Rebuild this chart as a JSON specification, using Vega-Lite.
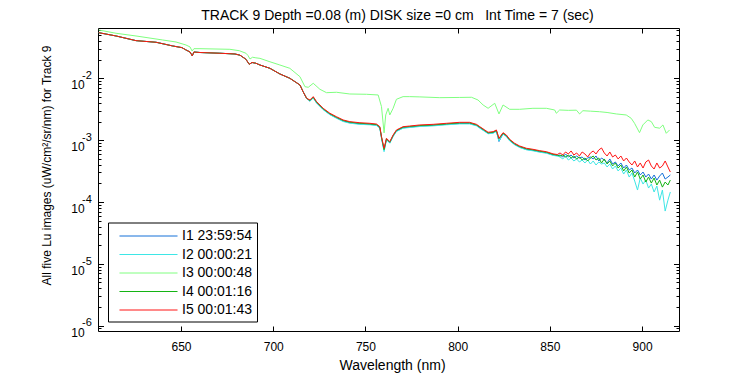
{
  "$schema": "https://vega.github.io/schema/vega-lite/v6.json",
  "width": 581,
  "height": 303,
  "autosize": "none",
  "padding": {"left": 98, "top": 28, "right": 71, "bottom": 44},
  "background": "white",
  "config": {
    "view": {"stroke": null},
    "font": "Liberation Sans",
    "axis": {"domainColor": "black", "domainWidth": 1, "tickColor": "black", "tickWidth": 1, "labelColor": "black", "titleColor": "black", "grid": false, "labelFont": "Liberation Sans", "titleFont": "Liberation Sans"}
  },
  "title": {"text": "TRACK 9 Depth =0.08 (m) DISK size =0 cm\u00a0\u00a0 Int Time = 7 (sec)", "fontSize": 14, "fontWeight": "normal", "font": "Liberation Sans", "color": "black", "anchor": "middle", "frame": "group", "baseline": "alphabetic", "offset": 9, "dx": 9, "dy": 15},
  "datasets": {
    "exps": [
      {"w": 605, "v": 0.000001, "e": "-6"},
      {"w": 605, "v": 0.00001, "e": "-5"},
      {"w": 605, "v": 0.0001, "e": "-4"},
      {"w": 605, "v": 0.001, "e": "-3"},
      {"w": 605, "v": 0.01, "e": "-2"}
    ],
    "lu": [
      {"s":"I1","w":605.4,"v":0.0546},{"s":"I1","w":614.8,"v":0.0483},{"s":"I1","w":625.6,"v":0.0406},{"s":"I1","w":636.5,"v":0.0382},{"s":"I1","w":645.5,"v":0.0333},{"s":"I1","w":650.5,"v":0.0313},{"s":"I1","w":652.7,"v":0.0287},{"s":"I1","w":654.9,"v":0.0266},{"s":"I1","w":656.1,"v":0.0230},{"s":"I1","w":657.0,"v":0.0266},{"s":"I1","w":660.3,"v":0.0261},{"s":"I1","w":671.1,"v":0.0254},{"s":"I1","w":679.3,"v":0.0247},{"s":"I1","w":682.0,"v":0.0236},{"s":"I1","w":685.2,"v":0.0203},{"s":"I1","w":687.0,"v":0.0168},{"s":"I1","w":688.5,"v":0.0180},{"s":"I1","w":690.6,"v":0.0175},{"s":"I1","w":692.8,"v":0.0164},{"s":"I1","w":698.2,"v":0.0145},{"s":"I1","w":703.6,"v":0.01175},{"s":"I1","w":709.0,"v":0.0100},{"s":"I1","w":714.5,"v":0.00779},{"s":"I1","w":716.2,"v":0.00607},{"s":"I1","w":718.1,"v":0.00475},
      {"s":"I1","w":719.9,"v":0.00428},{"s":"I1","w":721.7,"v":0.00485},{"s":"I1","w":723.5,"v":0.00402},{"s":"I1","w":727.1,"v":0.00314},{"s":"I1","w":730.7,"v":0.00261},{"s":"I1","w":734.3,"v":0.00229},{"s":"I1","w":737.9,"v":0.00204},{"s":"I1","w":741.5,"v":0.00191},{"s":"I1","w":747.0,"v":0.00183},{"s":"I1","w":752.4,"v":0.00180},{"s":"I1","w":756.0,"v":0.00175},{"s":"I1","w":757.8,"v":0.00158},{"s":"I1","w":758.7,"v":0.00109},{"s":"I1","w":760.1,"v":0.000690},{"s":"I1","w":761.4,"v":0.00103},{"s":"I1","w":763.2,"v":0.000906},{"s":"I1","w":765.0,"v":0.00116},{"s":"I1","w":766.8,"v":0.00140},{"s":"I1","w":770.4,"v":0.00158},{"s":"I1","w":774.0,"v":0.00162},{"s":"I1","w":779.5,"v":0.00169},{"s":"I1","w":786.7,"v":0.00173},{"s":"I1","w":793.9,"v":0.00180},{"s":"I1","w":801.1,"v":0.00186},{"s":"I1","w":806.5,"v":0.00186},{"s":"I1","w":810.2,"v":0.00173},{"s":"I1","w":812.0,"v":0.00158},{"s":"I1","w":814.7,"v":0.00140},{"s":"I1","w":816.5,"v":0.00129},{"s":"I1","w":819.2,"v":0.00132},{"s":"I1","w":821.0,"v":0.00140},{"s":"I1","w":822.4,"v":0.00095},{"s":"I1","w":824.6,"v":0.00127},{"s":"I1","w":826.4,"v":0.00116},{"s":"I1","w":828.2,"v":0.00099},{"s":"I1","w":830.9,"v":0.000853},{"s":"I1","w":833.6,"v":0.000772},{"s":"I1","w":837.3,"v":0.000708},{"s":"I1","w":840.8,"v":0.000683},{"s":"I1","w":844.5,"v":0.000648},{"s":"I1","w":848.1,"v":0.000624},{"s":"I1","w":851.7,"v":0.000576},{"s":"I1","w":854.0,"v":0.000562},
      {"s":"I1","w":855.5,"v":0.000575},{"s":"I1","w":857.0,"v":0.000534},{"s":"I1","w":858.5,"v":0.000597},{"s":"I1","w":860.0,"v":0.000534},{"s":"I1","w":861.5,"v":0.000575},{"s":"I1","w":863.0,"v":0.000514},{"s":"I1","w":864.5,"v":0.000554},{"s":"I1","w":866.0,"v":0.000514},{"s":"I1","w":867.5,"v":0.000534},{"s":"I1","w":869.0,"v":0.000477},{"s":"I1","w":870.5,"v":0.000514},{"s":"I1","w":872.0,"v":0.000534},{"s":"I1","w":873.5,"v":0.000496},{"s":"I1","w":875.0,"v":0.000554},{"s":"I1","w":876.5,"v":0.000460},{"s":"I1","w":878.0,"v":0.000514},{"s":"I1","w":879.5,"v":0.000477},{"s":"I1","w":881.0,"v":0.000427},{"s":"I1","w":882.5,"v":0.000496},{"s":"I1","w":884.0,"v":0.000411},{"s":"I1","w":885.5,"v":0.000443},{"s":"I1","w":887.0,"v":0.000382},{"s":"I1","w":888.5,"v":0.000427},{"s":"I1","w":890.0,"v":0.000354},{"s":"I1","w":891.5,"v":0.000396},{"s":"I1","w":893.0,"v":0.000329},{"s":"I1","w":894.5,"v":0.000354},{"s":"I1","w":896.0,"v":0.000294},{"s":"I1","w":897.5,"v":0.000329},{"s":"I1","w":899.0,"v":0.000273},{"s":"I1","w":900.5,"v":0.000305},{"s":"I1","w":902.0,"v":0.000253},{"s":"I1","w":903.5,"v":0.000283},{"s":"I1","w":905.0,"v":0.000235},{"s":"I1","w":906.5,"v":0.000273},{"s":"I1","w":908.0,"v":0.000226},{"s":"I1","w":909.5,"v":0.000263},{"s":"I1","w":911.0,"v":0.000294},{"s":"I1","w":912.5,"v":0.000235},{"s":"I1","w":914.0,"v":0.000253},{"s":"I1","w":915.3,"v":0.000273},

      {"s":"I2","w":605.4,"v":0.0546},{"s":"I2","w":614.8,"v":0.0483},{"s":"I2","w":625.6,"v":0.0406},{"s":"I2","w":636.5,"v":0.0382},{"s":"I2","w":645.5,"v":0.0333},{"s":"I2","w":650.5,"v":0.0313},{"s":"I2","w":652.7,"v":0.0287},{"s":"I2","w":654.9,"v":0.0266},{"s":"I2","w":656.1,"v":0.0230},{"s":"I2","w":657.0,"v":0.0266},{"s":"I2","w":660.3,"v":0.0261},{"s":"I2","w":671.1,"v":0.0254},{"s":"I2","w":679.3,"v":0.0247},{"s":"I2","w":682.0,"v":0.0236},{"s":"I2","w":685.2,"v":0.0203},{"s":"I2","w":687.0,"v":0.0168},{"s":"I2","w":688.5,"v":0.0180},{"s":"I2","w":690.6,"v":0.0175},{"s":"I2","w":692.8,"v":0.0164},{"s":"I2","w":698.2,"v":0.0145},{"s":"I2","w":703.6,"v":0.01175},{"s":"I2","w":709.0,"v":0.0100},{"s":"I2","w":714.5,"v":0.00779},{"s":"I2","w":716.2,"v":0.00607},{"s":"I2","w":718.1,"v":0.00475},
      {"s":"I2","w":719.9,"v":0.00425},{"s":"I2","w":721.7,"v":0.00480},{"s":"I2","w":723.5,"v":0.00398},{"s":"I2","w":727.1,"v":0.00310},{"s":"I2","w":730.7,"v":0.00258},{"s":"I2","w":734.3,"v":0.00226},{"s":"I2","w":737.9,"v":0.00200},{"s":"I2","w":741.5,"v":0.00188},{"s":"I2","w":747.0,"v":0.00180},{"s":"I2","w":752.4,"v":0.00177},{"s":"I2","w":756.0,"v":0.00172},{"s":"I2","w":757.8,"v":0.00156},{"s":"I2","w":758.7,"v":0.00108},{"s":"I2","w":760.1,"v":0.000650},{"s":"I2","w":761.4,"v":0.00101},{"s":"I2","w":763.2,"v":0.000892},{"s":"I2","w":765.0,"v":0.00114},{"s":"I2","w":766.8,"v":0.00138},{"s":"I2","w":770.4,"v":0.00156},{"s":"I2","w":774.0,"v":0.00160},{"s":"I2","w":779.5,"v":0.00166},{"s":"I2","w":786.7,"v":0.00170},{"s":"I2","w":793.9,"v":0.00177},{"s":"I2","w":801.1,"v":0.00183},{"s":"I2","w":806.5,"v":0.00183},{"s":"I2","w":810.2,"v":0.00170},{"s":"I2","w":812.0,"v":0.00156},{"s":"I2","w":814.7,"v":0.00138},{"s":"I2","w":816.5,"v":0.00127},{"s":"I2","w":819.2,"v":0.00129},{"s":"I2","w":821.0,"v":0.00138},{"s":"I2","w":822.4,"v":0.00097},{"s":"I2","w":824.6,"v":0.00125},{"s":"I2","w":826.4,"v":0.00114},{"s":"I2","w":828.2,"v":0.00097},{"s":"I2","w":830.9,"v":0.000840},{"s":"I2","w":833.6,"v":0.000760},{"s":"I2","w":837.3,"v":0.000697},{"s":"I2","w":840.8,"v":0.000672},{"s":"I2","w":844.5,"v":0.000638},{"s":"I2","w":848.1,"v":0.000614},{"s":"I2","w":851.7,"v":0.000567},{"s":"I2","w":854.0,"v":0.000553},
      {"s":"I2","w":855.5,"v":0.000534},{"s":"I2","w":857.0,"v":0.000496},{"s":"I2","w":858.5,"v":0.000554},{"s":"I2","w":860.0,"v":0.000477},{"s":"I2","w":861.5,"v":0.000514},{"s":"I2","w":863.0,"v":0.000460},{"s":"I2","w":864.5,"v":0.000496},{"s":"I2","w":866.0,"v":0.000443},{"s":"I2","w":867.5,"v":0.000477},{"s":"I2","w":869.0,"v":0.000427},{"s":"I2","w":870.5,"v":0.000477},{"s":"I2","w":872.0,"v":0.000411},{"s":"I2","w":873.5,"v":0.000460},{"s":"I2","w":875.0,"v":0.000396},{"s":"I2","w":876.5,"v":0.000443},{"s":"I2","w":878.0,"v":0.000411},{"s":"I2","w":879.5,"v":0.000427},{"s":"I2","w":881.0,"v":0.000368},{"s":"I2","w":882.5,"v":0.000411},{"s":"I2","w":884.0,"v":0.000341},{"s":"I2","w":885.5,"v":0.000382},{"s":"I2","w":887.0,"v":0.000317},{"s":"I2","w":888.5,"v":0.000354},{"s":"I2","w":890.0,"v":0.000283},{"s":"I2","w":891.5,"v":0.000329},{"s":"I2","w":893.0,"v":0.000253},{"s":"I2","w":894.5,"v":0.000294},{"s":"I2","w":896.0,"v":0.000218},{"s":"I2","w":897.5,"v":0.000156},{"s":"I2","w":899.0,"v":0.000244},{"s":"I2","w":900.5,"v":0.000195},{"s":"I2","w":902.0,"v":0.000226},{"s":"I2","w":903.5,"v":0.000168},{"s":"I2","w":905.0,"v":0.000195},{"s":"I2","w":906.5,"v":0.000145},{"s":"I2","w":908.0,"v":0.000181},{"s":"I2","w":909.5,"v":0.000107},{"s":"I2","w":911.0,"v":0.000156},{"s":"I2","w":912.5,"v":0.0000713},{"s":"I2","w":914.0,"v":0.000107},{"s":"I2","w":915.3,"v":0.000145},

      {"s":"I3","w":605.4,"v":0.0604},{"s":"I3","w":614.8,"v":0.0534},{"s":"I3","w":625.6,"v":0.0483},{"s":"I3","w":640.1,"v":0.0416},{"s":"I3","w":647.3,"v":0.0386},{"s":"I3","w":652.7,"v":0.0345},{"s":"I3","w":654.9,"v":0.0321},{"s":"I3","w":656.0,"v":0.0276},{"s":"I3","w":657.0,"v":0.0301},{"s":"I3","w":660.3,"v":0.0301},{"s":"I3","w":676.5,"v":0.0294},{"s":"I3","w":681.6,"v":0.0279},{"s":"I3","w":685.2,"v":0.0254},{"s":"I3","w":686.3,"v":0.0234},{"s":"I3","w":687.4,"v":0.0205},{"s":"I3","w":688.8,"v":0.0219},{"s":"I3","w":690.6,"v":0.0214},{"s":"I3","w":692.8,"v":0.0210},{"s":"I3","w":698.2,"v":0.0185},{"s":"I3","w":703.6,"v":0.0164},{"s":"I3","w":709.0,"v":0.0145},{"s":"I3","w":714.5,"v":0.0106},{"s":"I3","w":717.2,"v":0.00731},{"s":"I3","w":719.0,"v":0.00715},{"s":"I3","w":721.7,"v":0.00830},{"s":"I3","w":725.3,"v":0.00664},{"s":"I3","w":728.9,"v":0.00585},{"s":"I3","w":734.3,"v":0.00594},{"s":"I3","w":741.5,"v":0.00557},{"s":"I3","w":750.6,"v":0.00551},{"s":"I3","w":756.9,"v":0.00537},{"s":"I3","w":758.7,"v":0.00348},{"s":"I3","w":760.1,"v":0.00131},{"s":"I3","w":761.0,"v":0.00255},{"s":"I3","w":762.3,"v":0.00327},{"s":"I3","w":763.2,"v":0.00255},{"s":"I3","w":765.0,"v":0.00327},{"s":"I3","w":766.8,"v":0.00457},{"s":"I3","w":770.4,"v":0.00505},{"s":"I3","w":774.0,"v":0.00505},{"s":"I3","w":779.5,"v":0.00500},{"s":"I3","w":790.3,"v":0.00486},{"s":"I3","w":801.1,"v":0.00490},{"s":"I3","w":807.5,"v":0.00493},{"s":"I3","w":811.0,"v":0.00446},{"s":"I3","w":813.8,"v":0.00370},{"s":"I3","w":816.5,"v":0.00327},{"s":"I3","w":820.1,"v":0.00394},{"s":"I3","w":822.4,"v":0.00265},{"s":"I3","w":824.6,"v":0.00370},{"s":"I3","w":828.2,"v":0.00315},{"s":"I3","w":833.6,"v":0.00315},{"s":"I3","w":840.8,"v":0.00327},{"s":"I3","w":848.1,"v":0.00327},{"s":"I3","w":852.6,"v":0.00307},{"s":"I3","w":853.5,"v":0.00272},{"s":"I3","w":855.3,"v":0.00307},{"s":"I3","w":860.0,"v":0.00303},{"s":"I3","w":864.4,"v":0.00305},{"s":"I3","w":866.1,"v":0.00265},{"s":"I3","w":867.9,"v":0.00299},{"s":"I3","w":872.0,"v":0.00294},{"s":"I3","w":876.9,"v":0.00288},{"s":"I3","w":881.0,"v":0.00280},{"s":"I3","w":886.0,"v":0.00265},{"s":"I3","w":891.4,"v":0.00255},{"s":"I3","w":894.1,"v":0.00225},{"s":"I3","w":895.9,"v":0.00187},{"s":"I3","w":898.6,"v":0.00132},{"s":"I3","w":900.4,"v":0.00176},{"s":"I3","w":903.1,"v":0.00212},{"s":"I3","w":905.0,"v":0.00199},{"s":"I3","w":906.8,"v":0.00161},{"s":"I3","w":909.5,"v":0.00156},{"s":"I3","w":911.3,"v":0.00176},{"s":"I3","w":913.1,"v":0.00129},{"s":"I3","w":914.9,"v":0.00146},

      {"s":"I4","w":605.4,"v":0.0546},{"s":"I4","w":614.8,"v":0.0483},{"s":"I4","w":625.6,"v":0.0406},{"s":"I4","w":636.5,"v":0.0382},{"s":"I4","w":645.5,"v":0.0333},{"s":"I4","w":650.5,"v":0.0313},{"s":"I4","w":652.7,"v":0.0287},{"s":"I4","w":654.9,"v":0.0266},{"s":"I4","w":656.1,"v":0.0230},{"s":"I4","w":657.0,"v":0.0266},{"s":"I4","w":660.3,"v":0.0261},{"s":"I4","w":671.1,"v":0.0254},{"s":"I4","w":679.3,"v":0.0247},{"s":"I4","w":682.0,"v":0.0236},{"s":"I4","w":685.2,"v":0.0203},{"s":"I4","w":687.0,"v":0.0168},{"s":"I4","w":688.5,"v":0.0180},{"s":"I4","w":690.6,"v":0.0175},{"s":"I4","w":692.8,"v":0.0164},{"s":"I4","w":698.2,"v":0.0145},{"s":"I4","w":703.6,"v":0.01175},{"s":"I4","w":709.0,"v":0.0100},{"s":"I4","w":714.5,"v":0.00779},{"s":"I4","w":716.2,"v":0.00607},{"s":"I4","w":718.1,"v":0.00475},
      {"s":"I4","w":719.9,"v":0.00437},{"s":"I4","w":721.7,"v":0.00495},{"s":"I4","w":723.5,"v":0.00411},{"s":"I4","w":727.1,"v":0.00320},{"s":"I4","w":730.7,"v":0.00267},{"s":"I4","w":734.3,"v":0.00234},{"s":"I4","w":737.9,"v":0.00208},{"s":"I4","w":741.5,"v":0.00195},{"s":"I4","w":747.0,"v":0.00187},{"s":"I4","w":752.4,"v":0.00183},{"s":"I4","w":756.0,"v":0.00178},{"s":"I4","w":757.8,"v":0.00162},{"s":"I4","w":758.7,"v":0.00112},{"s":"I4","w":760.1,"v":0.000700},{"s":"I4","w":761.4,"v":0.00105},{"s":"I4","w":763.2,"v":0.000925},{"s":"I4","w":765.0,"v":0.00119},{"s":"I4","w":766.8,"v":0.00143},{"s":"I4","w":770.4,"v":0.00162},{"s":"I4","w":774.0,"v":0.00166},{"s":"I4","w":779.5,"v":0.00172},{"s":"I4","w":786.7,"v":0.00176},{"s":"I4","w":793.9,"v":0.00183},{"s":"I4","w":801.1,"v":0.00190},{"s":"I4","w":806.5,"v":0.00190},{"s":"I4","w":810.2,"v":0.00176},{"s":"I4","w":812.0,"v":0.00162},{"s":"I4","w":814.7,"v":0.00143},{"s":"I4","w":816.5,"v":0.00131},{"s":"I4","w":819.2,"v":0.00134},{"s":"I4","w":821.0,"v":0.00143},{"s":"I4","w":822.4,"v":0.00105},{"s":"I4","w":824.6,"v":0.00129},{"s":"I4","w":826.4,"v":0.00119},{"s":"I4","w":828.2,"v":0.00101},{"s":"I4","w":830.9,"v":0.000871},{"s":"I4","w":833.6,"v":0.000788},{"s":"I4","w":837.3,"v":0.000723},{"s":"I4","w":840.8,"v":0.000697},{"s":"I4","w":844.5,"v":0.000662},{"s":"I4","w":848.1,"v":0.000637},{"s":"I4","w":851.7,"v":0.000588},{"s":"I4","w":854.0,"v":0.000573},
      {"s":"I4","w":855.5,"v":0.000554},{"s":"I4","w":857.0,"v":0.000575},{"s":"I4","w":858.5,"v":0.000534},{"s":"I4","w":860.0,"v":0.000575},{"s":"I4","w":861.5,"v":0.000514},{"s":"I4","w":863.0,"v":0.000554},{"s":"I4","w":864.5,"v":0.000496},{"s":"I4","w":866.0,"v":0.000534},{"s":"I4","w":867.5,"v":0.000477},{"s":"I4","w":869.0,"v":0.000514},{"s":"I4","w":870.5,"v":0.000460},{"s":"I4","w":872.0,"v":0.000514},{"s":"I4","w":873.5,"v":0.000554},{"s":"I4","w":875.0,"v":0.000477},{"s":"I4","w":876.5,"v":0.000514},{"s":"I4","w":878.0,"v":0.000427},{"s":"I4","w":879.5,"v":0.000496},{"s":"I4","w":881.0,"v":0.000411},{"s":"I4","w":882.5,"v":0.000460},{"s":"I4","w":884.0,"v":0.000382},{"s":"I4","w":885.5,"v":0.000427},{"s":"I4","w":887.0,"v":0.000354},{"s":"I4","w":888.5,"v":0.000396},{"s":"I4","w":890.0,"v":0.000317},{"s":"I4","w":891.5,"v":0.000368},{"s":"I4","w":893.0,"v":0.000294},{"s":"I4","w":894.5,"v":0.000329},{"s":"I4","w":896.0,"v":0.000253},{"s":"I4","w":897.5,"v":0.000305},{"s":"I4","w":899.0,"v":0.000235},{"s":"I4","w":900.5,"v":0.000273},{"s":"I4","w":902.0,"v":0.000210},{"s":"I4","w":903.5,"v":0.000253},{"s":"I4","w":905.0,"v":0.000202},{"s":"I4","w":906.5,"v":0.000244},{"s":"I4","w":908.0,"v":0.000188},{"s":"I4","w":909.5,"v":0.000226},{"s":"I4","w":911.0,"v":0.000174},{"s":"I4","w":912.5,"v":0.000210},{"s":"I4","w":914.0,"v":0.000188},{"s":"I4","w":915.3,"v":0.000226},

      {"s":"I5","w":605.4,"v":0.0546},{"s":"I5","w":614.8,"v":0.0483},{"s":"I5","w":625.6,"v":0.0406},{"s":"I5","w":636.5,"v":0.0382},{"s":"I5","w":645.5,"v":0.0333},{"s":"I5","w":650.5,"v":0.0313},{"s":"I5","w":652.7,"v":0.0287},{"s":"I5","w":654.9,"v":0.0266},{"s":"I5","w":656.1,"v":0.0230},{"s":"I5","w":657.0,"v":0.0266},{"s":"I5","w":660.3,"v":0.0261},{"s":"I5","w":671.1,"v":0.0254},{"s":"I5","w":679.3,"v":0.0247},{"s":"I5","w":682.0,"v":0.0236},{"s":"I5","w":685.2,"v":0.0203},{"s":"I5","w":687.0,"v":0.0168},{"s":"I5","w":688.5,"v":0.0180},{"s":"I5","w":690.6,"v":0.0175},{"s":"I5","w":692.8,"v":0.0164},{"s":"I5","w":698.2,"v":0.0145},{"s":"I5","w":703.6,"v":0.01175},{"s":"I5","w":709.0,"v":0.0100},{"s":"I5","w":714.5,"v":0.00779},{"s":"I5","w":716.2,"v":0.00607},{"s":"I5","w":718.1,"v":0.00475},
      {"s":"I5","w":719.9,"v":0.00446},{"s":"I5","w":721.7,"v":0.00505},{"s":"I5","w":723.5,"v":0.00419},{"s":"I5","w":727.1,"v":0.00327},{"s":"I5","w":730.7,"v":0.00272},{"s":"I5","w":734.3,"v":0.00239},{"s":"I5","w":737.9,"v":0.00212},{"s":"I5","w":741.5,"v":0.00199},{"s":"I5","w":747.0,"v":0.00191},{"s":"I5","w":752.4,"v":0.00187},{"s":"I5","w":756.0,"v":0.00182},{"s":"I5","w":757.8,"v":0.00165},{"s":"I5","w":758.7,"v":0.00114},{"s":"I5","w":760.1,"v":0.000738},{"s":"I5","w":761.4,"v":0.00107},{"s":"I5","w":763.2,"v":0.000944},{"s":"I5","w":765.0,"v":0.00121},{"s":"I5","w":766.8,"v":0.00146},{"s":"I5","w":770.4,"v":0.00165},{"s":"I5","w":774.0,"v":0.00169},{"s":"I5","w":779.5,"v":0.00176},{"s":"I5","w":786.7,"v":0.00180},{"s":"I5","w":793.9,"v":0.00187},{"s":"I5","w":801.1,"v":0.00194},{"s":"I5","w":806.5,"v":0.00194},{"s":"I5","w":810.2,"v":0.00180},{"s":"I5","w":812.0,"v":0.00165},{"s":"I5","w":814.7,"v":0.00146},{"s":"I5","w":816.5,"v":0.00134},{"s":"I5","w":819.2,"v":0.00137},{"s":"I5","w":821.0,"v":0.00146},{"s":"I5","w":822.4,"v":0.00107},{"s":"I5","w":824.6,"v":0.00132},{"s":"I5","w":826.4,"v":0.00121},{"s":"I5","w":828.2,"v":0.00103},{"s":"I5","w":830.9,"v":0.000889},{"s":"I5","w":833.6,"v":0.000804},{"s":"I5","w":837.3,"v":0.000738},{"s":"I5","w":840.8,"v":0.000711},{"s":"I5","w":844.5,"v":0.000675},{"s":"I5","w":848.1,"v":0.000650},{"s":"I5","w":851.7,"v":0.000600},{"s":"I5","w":854.0,"v":0.000585},
      {"s":"I5","w":855.5,"v":0.000620},{"s":"I5","w":857.0,"v":0.000575},{"s":"I5","w":858.5,"v":0.000643},{"s":"I5","w":860.0,"v":0.000597},{"s":"I5","w":861.5,"v":0.000668},{"s":"I5","w":863.0,"v":0.000575},{"s":"I5","w":864.5,"v":0.000620},{"s":"I5","w":866.0,"v":0.000554},{"s":"I5","w":867.5,"v":0.000643},{"s":"I5","w":869.0,"v":0.000597},{"s":"I5","w":870.5,"v":0.000534},{"s":"I5","w":872.0,"v":0.000620},{"s":"I5","w":873.5,"v":0.000668},{"s":"I5","w":875.0,"v":0.000597},{"s":"I5","w":876.5,"v":0.000693},{"s":"I5","w":878.0,"v":0.000747},{"s":"I5","w":879.5,"v":0.000620},{"s":"I5","w":881.0,"v":0.000554},{"s":"I5","w":882.5,"v":0.000643},{"s":"I5","w":884.0,"v":0.000534},{"s":"I5","w":885.5,"v":0.000575},{"s":"I5","w":887.0,"v":0.000496},{"s":"I5","w":888.5,"v":0.000554},{"s":"I5","w":890.0,"v":0.000460},{"s":"I5","w":891.5,"v":0.000514},{"s":"I5","w":893.0,"v":0.000443},{"s":"I5","w":894.5,"v":0.000396},{"s":"I5","w":896.0,"v":0.000460},{"s":"I5","w":897.5,"v":0.000368},{"s":"I5","w":899.0,"v":0.000427},{"s":"I5","w":900.5,"v":0.000354},{"s":"I5","w":902.0,"v":0.000443},{"s":"I5","w":903.5,"v":0.000477},{"s":"I5","w":905.0,"v":0.000382},{"s":"I5","w":906.5,"v":0.000341},{"s":"I5","w":908.0,"v":0.000427},{"s":"I5","w":909.5,"v":0.000354},{"s":"I5","w":911.0,"v":0.000382},{"s":"I5","w":912.5,"v":0.000460},{"s":"I5","w":914.0,"v":0.000368},{"s":"I5","w":915.3,"v":0.000305}
    ]
  },
  "layer": [
    {
      "data": {"name": "lu"},
      "mark": {"type": "line", "strokeWidth": 1},
      "encoding": {
        "x": {
          "field": "w", "type": "quantitative",
          "scale": {"domain": [605, 920], "nice": false, "zero": false},
          "axis": {"orient": "bottom", "values": [650, 700, 750, 800, 850, 900], "tickSize": -5, "labelPadding": 24, "labelBaseline": "alphabetic", "labelFontSize": 12, "labelFlush": false, "title": "Wavelength (nm)", "titleFontSize": 14, "titleFontWeight": "normal", "titleBaseline": "alphabetic", "titleY": 38, "titleX": 294}
        },
        "y": {
          "field": "v", "type": "quantitative",
          "scale": {"type": "log", "domain": [8.2e-7, 0.065], "nice": false},
          "axis": {
            "orient": "left",
            "values": [9e-7, 1e-6, 2e-6, 3e-6, 4e-6, 5e-6, 6e-6, 7e-6, 8e-6, 9e-6, 1e-5, 2e-5, 3e-5, 4e-5, 5e-5, 6e-5, 7e-5, 8e-5, 9e-5, 1e-4, 2e-4, 3e-4, 4e-4, 5e-4, 6e-4, 7e-4, 8e-4, 9e-4, 0.001, 0.002, 0.003, 0.004, 0.005, 0.006, 0.007, 0.008, 0.009, 0.01, 0.02, 0.03, 0.04, 0.05, 0.06],
            "labelExpr": "abs(log(datum.value)/LN10 - round(log(datum.value)/LN10)) < 0.01 ? '10' : ''",
            "tickSize": {"condition": {"test": "abs(log(datum.value)/LN10 - round(log(datum.value)/LN10)) < 0.01", "value": -5.5}, "value": -3},
            "labelFontSize": 12, "labelBaseline": "alphabetic", "labelOffset": 10.7, "labelPadding": 19.3, "labelFlush": false, "labelOverlap": false,
            "title": "All five Lu images (uW/cm\u00b2/sr/nm) for Track 9", "titleFontSize": 12, "titleFontWeight": "normal", "titleAngle": -90, "titleBaseline": "alphabetic", "titleAlign": "center", "titleX": -47.3, "titleY": 137
          }
        },
        "color": {
          "field": "s", "type": "nominal",
          "scale": {"domain": ["I1", "I2", "I3", "I4", "I5"], "range": ["#1470d8", "#3ee6e6", "#80ff80", "#14b414", "#ff1414"]},
          "legend": {
            "orient": "none", "legendX": 10, "legendY": 194.5, "title": null,
            "fillColor": "white", "strokeColor": "black", "padding": 4,
            "symbolType": "M-3.26,0H3.26", "symbolSize": 317, "symbolStrokeWidth": 1, "symbolOffset": 27,
            "labelOffset": 24, "labelFontSize": 14, "labelFont": "Liberation Sans", "labelColor": "black", "rowPadding": 1.5,
            "labelExpr": "datum.label == 'I1' ? 'I1 23:59:54' : datum.label == 'I2' ? 'I2 00:00:21' : datum.label == 'I3' ? 'I3 00:00:48' : datum.label == 'I4' ? 'I4 00:01:16' : 'I5 00:01:43'"
          }
        }
      }
    },
    {
      "data": {"name": "exps"},
      "mark": {"type": "text", "align": "left", "baseline": "alphabetic", "dx": -16, "dy": 0.7, "fontSize": 11, "font": "Liberation Sans", "color": "black"},
      "encoding": {
        "x": {
          "field": "w", "type": "quantitative",
          "scale": {"domain": [605, 920], "nice": false, "zero": false},
          "axis": {"orient": "top", "values": [650, 700, 750, 800, 850, 900], "tickSize": -5, "labels": false, "title": null}
        },
        "y": {
          "field": "v", "type": "quantitative",
          "scale": {"type": "log", "domain": [8.2e-7, 0.065], "nice": false},
          "axis": {
            "orient": "right",
            "values": [9e-7, 1e-6, 2e-6, 3e-6, 4e-6, 5e-6, 6e-6, 7e-6, 8e-6, 9e-6, 1e-5, 2e-5, 3e-5, 4e-5, 5e-5, 6e-5, 7e-5, 8e-5, 9e-5, 1e-4, 2e-4, 3e-4, 4e-4, 5e-4, 6e-4, 7e-4, 8e-4, 9e-4, 0.001, 0.002, 0.003, 0.004, 0.005, 0.006, 0.007, 0.008, 0.009, 0.01, 0.02, 0.03, 0.04, 0.05, 0.06],
            "tickSize": {"condition": {"test": "abs(log(datum.value)/LN10 - round(log(datum.value)/LN10)) < 0.01", "value": -5.5}, "value": -3},
            "labels": false, "title": null
          }
        },
        "text": {"field": "e"}
      }
    }
  ],
  "resolve": {"axis": {"x": "independent", "y": "independent"}}
}
